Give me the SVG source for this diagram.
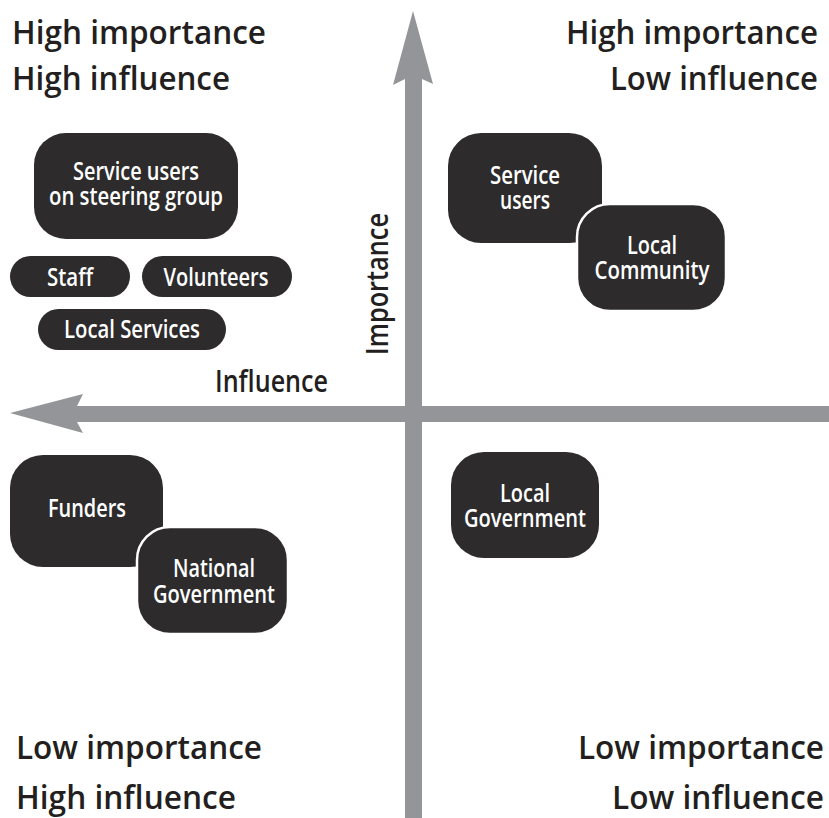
<svg xmlns="http://www.w3.org/2000/svg" width="829" height="818" viewBox="0 0 829 818">
<style>
.head{font-family:"Open Sans","Liberation Sans",sans-serif;font-weight:600;font-size:32px;fill:#231f20}
.axl{font-family:"Open Sans","Liberation Sans",sans-serif;font-weight:600;font-size:30px;fill:#231f20}
.node rect{fill:#2d2b2c}
.node .ov{stroke:#ffffff;stroke-width:2.5}
.nt{font-family:"Open Sans","Liberation Sans",sans-serif;font-weight:600;font-size:26px;fill:#ffffff;text-anchor:middle}
.axis{fill:#939598}
</style>
<rect width="829" height="818" fill="#ffffff"/>
<g id="connectors">
<path class="axis" d="M405,818 L405,79 L393,85 L413,11 L433,84 L422,79 L422,818 Z"/>
<path class="axis" d="M829,406 L77,406 L83,394 L10,413 L83,433 L77,422 L829,422 Z"/>
</g>
<g id="labels">
<text class="head" x="12" y="44" textLength="254" lengthAdjust="spacingAndGlyphs">High importance</text>
<text class="head" x="12" y="90" textLength="218" lengthAdjust="spacingAndGlyphs">High influence</text>
<text class="head" x="566" y="44" textLength="252" lengthAdjust="spacingAndGlyphs">High importance</text>
<text class="head" x="610" y="90" textLength="208" lengthAdjust="spacingAndGlyphs">Low influence</text>
<text class="head" x="16" y="759" textLength="246" lengthAdjust="spacingAndGlyphs">Low importance</text>
<text class="head" x="16" y="809" textLength="220" lengthAdjust="spacingAndGlyphs">High influence</text>
<text class="head" x="578" y="759" textLength="246" lengthAdjust="spacingAndGlyphs">Low importance</text>
<text class="head" x="612" y="809" textLength="212" lengthAdjust="spacingAndGlyphs">Low influence</text>
<text class="axl" x="215" y="392" textLength="113" lengthAdjust="spacingAndGlyphs">Influence</text>
<text class="axl" transform="translate(388,355) rotate(-90)" x="0" y="0" textLength="142" lengthAdjust="spacingAndGlyphs">Importance</text>
</g>
<g id="node-steering" class="node">
<rect x="34" y="133" width="204" height="106" rx="32"/>
<text class="nt" x="136" y="180" textLength="126" lengthAdjust="spacingAndGlyphs">Service users</text>
<text class="nt" x="136" y="205" textLength="174" lengthAdjust="spacingAndGlyphs">on steering group</text>
</g>
<g id="node-staff" class="node">
<rect x="10" y="256" width="120" height="41" rx="20.5"/>
<text class="nt" x="70" y="286" textLength="46" lengthAdjust="spacingAndGlyphs">Staff</text>
</g>
<g id="node-volunteers" class="node">
<rect x="142" y="256" width="150" height="41" rx="20.5"/>
<text class="nt" x="216" y="286" textLength="105" lengthAdjust="spacingAndGlyphs">Volunteers</text>
</g>
<g id="node-local-services" class="node">
<rect x="38" y="309" width="188" height="41" rx="20.5"/>
<text class="nt" x="132" y="338" textLength="136" lengthAdjust="spacingAndGlyphs">Local Services</text>
</g>
<g id="node-service-users" class="node">
<rect x="448" y="133" width="154" height="110" rx="33"/>
<text class="nt" x="525" y="184" textLength="70" lengthAdjust="spacingAndGlyphs">Service</text>
<text class="nt" x="525" y="209" textLength="50" lengthAdjust="spacingAndGlyphs">users</text>
</g>
<g id="node-local-community" class="node">
<rect class="ov" x="577" y="204" width="149" height="107" rx="33"/>
<text class="nt" x="652" y="254" textLength="50" lengthAdjust="spacingAndGlyphs">Local</text>
<text class="nt" x="652" y="279" textLength="115" lengthAdjust="spacingAndGlyphs">Community</text>
</g>
<g id="node-funders" class="node">
<rect x="10" y="455" width="153" height="112" rx="33"/>
<text class="nt" x="87" y="517" textLength="78" lengthAdjust="spacingAndGlyphs">Funders</text>
</g>
<g id="node-national-government" class="node">
<rect class="ov" x="137" y="527" width="151" height="107" rx="33"/>
<text class="nt" x="214" y="577" textLength="82" lengthAdjust="spacingAndGlyphs">National</text>
<text class="nt" x="214" y="603" textLength="122" lengthAdjust="spacingAndGlyphs">Government</text>
</g>
<g id="node-local-government" class="node">
<rect x="451" y="452" width="148" height="106" rx="33"/>
<text class="nt" x="525" y="502" textLength="50" lengthAdjust="spacingAndGlyphs">Local</text>
<text class="nt" x="525" y="527" textLength="122" lengthAdjust="spacingAndGlyphs">Government</text>
</g>
</svg>
